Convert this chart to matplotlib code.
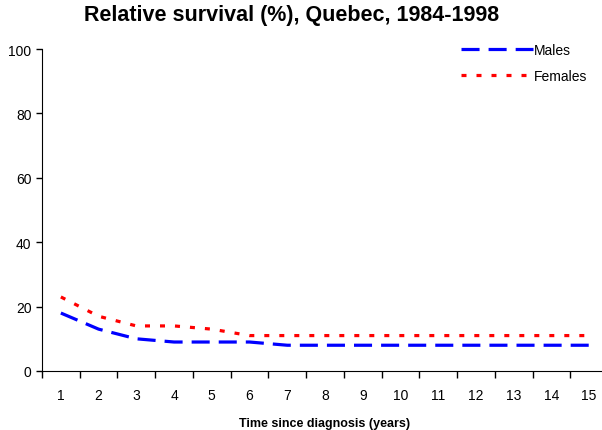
import matplotlib
matplotlib.use("Agg")
import matplotlib.pyplot as plt
import numpy as np

plt.rcParams['font.family'] = ['Liberation Sans', 'DejaVu Sans']
plt.rcParams['lines.scale_dashes'] = False

years = np.arange(1, 16)
males = [18, 13, 10, 9, 9, 9, 8, 8, 8, 8, 8, 8, 8, 8, 8]
females = [23, 17, 14, 14, 13, 11, 11, 11, 11, 11, 11, 11, 11, 11, 11]

fig = plt.figure(figsize=(6.02, 4.31), dpi=100)
ax = fig.add_axes([42 / 602, 59 / 431, 566 / 602, 322 / 431])

ax.plot(years, males, color='#0000ff', lw=2.3, ls=(0, (13, 6.5)), label='Males')
ax.plot(years, females, color='#ff0000', lw=2.3, ls=(0, (3.6, 7.2)), label='Females')

ax.set_xlim(0.5, 15.5)
ax.set_ylim(0, 100)
ax.set_yticks(range(0, 101, 20))
ax.set_xticks(years)
ax.set_xticks(np.arange(0.5, 16, 1), minor=True)
ax.tick_params(axis='x', which='major', length=0, labelsize=10, pad=12)
ax.tick_params(axis='x', which='minor', length=5, direction='out', width=1)
ax.tick_params(axis='y', length=4, labelsize=10, width=1)

for s in ['top', 'right']:
    ax.spines[s].set_visible(False)
for s in ['left', 'bottom']:
    ax.spines[s].set_color('black')

fig.text(292 / 602, 1 - 15 / 431, 'Relative survival (%), Quebec, 1984-1998',
         fontsize=15.5, fontweight='bold', ha='center', va='center')
ax.set_xlabel('Time since diagnosis (years)', fontsize=9, fontweight='bold', labelpad=11)

ax.legend(loc='upper left', bbox_to_anchor=(406 / 566, 1.058), frameon=False,
          fontsize=10, handlelength=5.2, handletextpad=0.1, labelspacing=0.9)

fig.savefig('out.png', dpi=100)
